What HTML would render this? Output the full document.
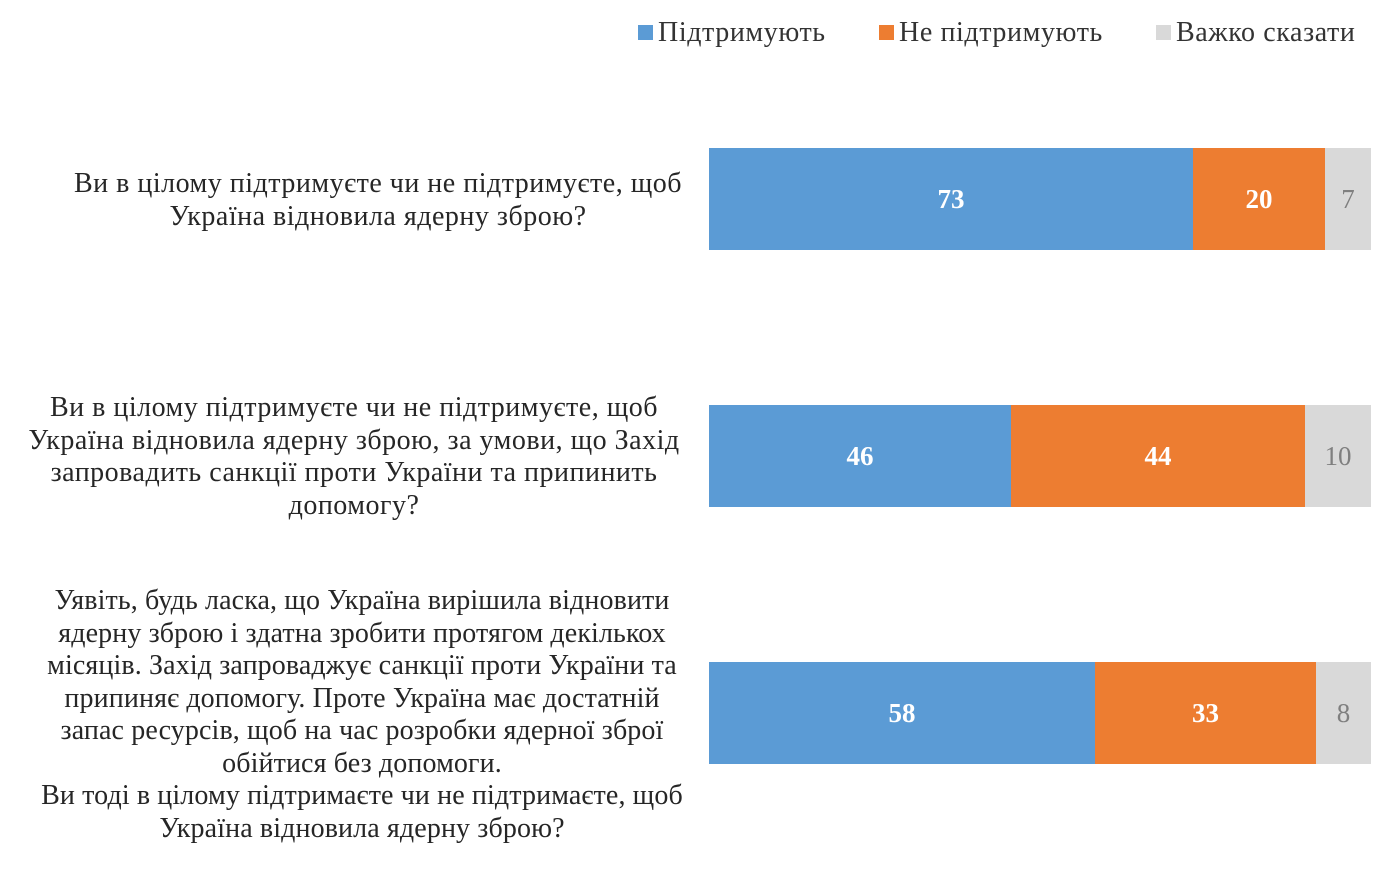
<!DOCTYPE html>
<html><head><meta charset="utf-8"><style>
body{margin:0;width:1398px;height:879px;background:#fff;font-family:"Liberation Serif",serif;position:relative;overflow:hidden}
.a{position:absolute}
.lg{font-size:28px;letter-spacing:0.6px;color:#333;top:17px;line-height:32px;white-space:nowrap}
.sq{position:absolute;width:15px;height:15px;top:25px}
.q{position:absolute;width:760px;text-align:center;font-size:28px;letter-spacing:0.5px;line-height:32.5px;color:#262626;white-space:nowrap}
.bar{position:absolute;height:102px;display:flex;align-items:center;justify-content:center;font-size:27px}
.b{background:#5B9BD5;color:#fff;font-weight:bold}
.o{background:#ED7D31;color:#fff;font-weight:bold}
.g{background:#D9D9D9;color:#7f7f7f}
</style></head><body>
<div class="sq" style="left:638px;background:#5B9BD5"></div><div class="a lg" style="left:658px">Підтримують</div>
<div class="sq" style="left:879px;background:#ED7D31"></div><div class="a lg" style="left:899px">Не підтримують</div>
<div class="sq" style="left:1156px;background:#D9D9D9"></div><div class="a lg" style="left:1176px">Важко сказати</div>

<div class="q" style="top:168px;left:-2px">Ви в цілому підтримуєте чи не підтримуєте, щоб<br>Україна відновила ядерну зброю?</div>
<div class="q" style="top:392px;left:-26px">Ви в цілому підтримуєте чи не підтримуєте, щоб<br>Україна відновила ядерну зброю, за умови, що Захід<br>запровадить санкції проти України та припинить<br>допомогу?</div>
<div class="q" style="top:585px;left:-18px;letter-spacing:0.12px">Уявіть, будь ласка, що Україна вирішила відновити<br>ядерну зброю і здатна зробити протягом декількох<br>місяців. Захід запроваджує санкції проти України та<br>припиняє допомогу. Проте Україна має достатній<br>запас ресурсів, щоб на час розробки ядерної зброї<br>обійтися без допомоги.<br>Ви тоді в цілому підтримаєте чи не підтримаєте, щоб<br>Україна відновила ядерну зброю?</div>

<div class="bar b" style="left:709px;top:148px;width:484px">73</div>
<div class="bar o" style="left:1193px;top:148px;width:132px">20</div>
<div class="bar g" style="left:1325px;top:148px;width:46px">7</div>

<div class="bar b" style="left:709px;top:405px;width:302px">46</div>
<div class="bar o" style="left:1011px;top:405px;width:294px">44</div>
<div class="bar g" style="left:1305px;top:405px;width:66px">10</div>

<div class="bar b" style="left:709px;top:662px;width:386px">58</div>
<div class="bar o" style="left:1095px;top:662px;width:221px">33</div>
<div class="bar g" style="left:1316px;top:662px;width:55px">8</div>
</body></html>
